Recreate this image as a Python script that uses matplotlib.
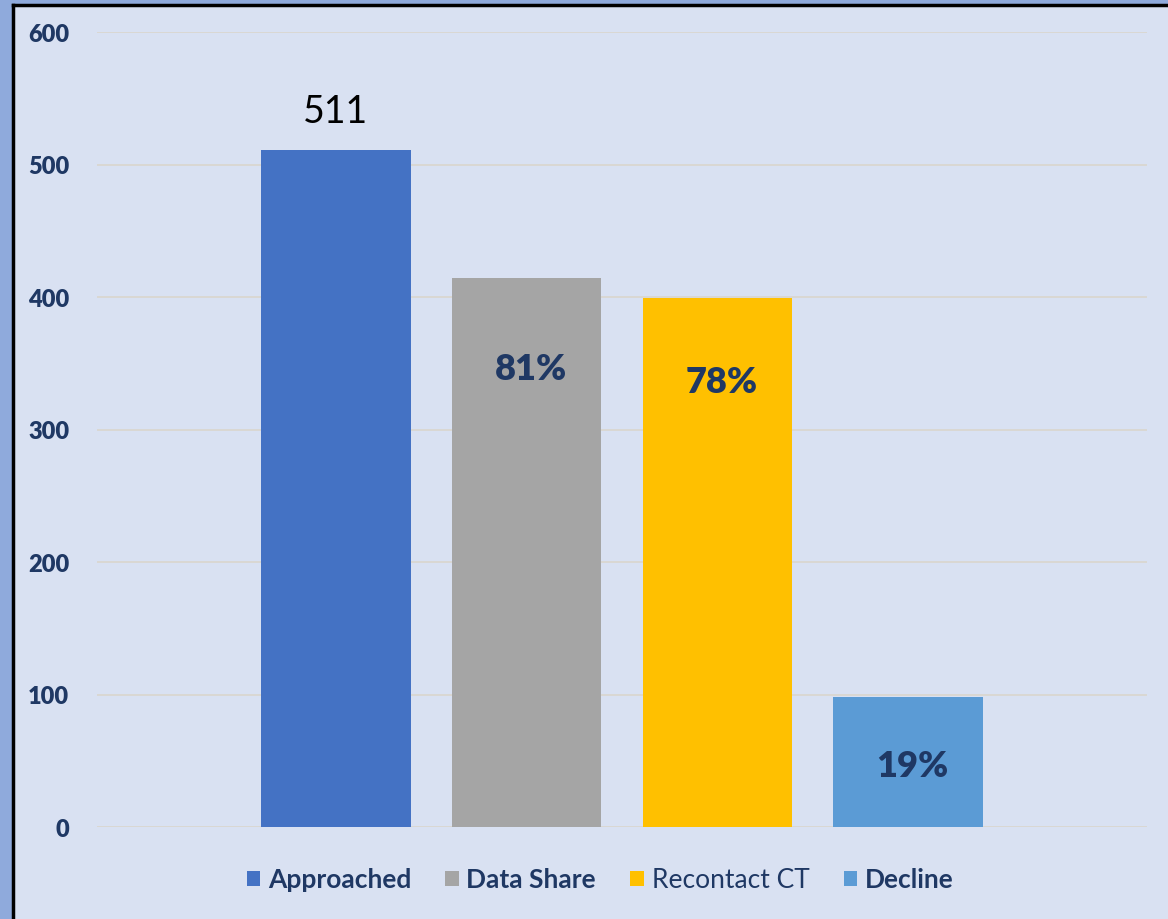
import matplotlib.pyplot as plt
from matplotlib.patches import Patch, Rectangle

# data
series = ['Approached', 'Data Share', 'Recontact CT', 'Decline']
counts = [511, 414, 399, 98]
pct_labels = ['', '81%', '78%', '19%']
yticks = [0, 100, 200, 300, 400, 500, 600]

colors = ['#4472C4', '#A5A5A5', '#FFC000', '#5B9BD5']
navy = '#1F3864'
bg = '#D9E1F2'
frame_blue = '#8FAADC'

plt.rcParams['font.family'] = ['Lato', 'DejaVu Sans']

fig = plt.figure(figsize=(11.68, 9.2), dpi=100)
fig.patch.set_facecolor(bg)
# blue strips on left and top, then black border lines
fig.add_artist(Rectangle((0, 0), 13 / 1168, 1, transform=fig.transFigure,
                         facecolor=frame_blue, edgecolor='none'))
fig.add_artist(Rectangle((0, 1 - 5 / 920), 1, 5 / 920, transform=fig.transFigure,
                         facecolor=frame_blue, edgecolor='none'))
fig.add_artist(plt.Line2D([13 / 1168, 13 / 1168], [0, 1 - 6 / 920],
                          transform=fig.transFigure, color='black', lw=2.5))
fig.add_artist(plt.Line2D([13 / 1168, 1], [1 - 6 / 920, 1 - 6 / 920],
                          transform=fig.transFigure, color='black', lw=2.5))

ax = fig.add_axes([97 / 1168, 92 / 920, 1050 / 1168, 795 / 920])
ax.set_facecolor('none')

x = list(range(len(series)))
bars = ax.bar(x, counts, width=0.785, color=colors, zorder=2)

ax.set_xlim(-1.25, 4.25)
ax.set_ylim(0, 600)
ax.set_yticks(yticks)
ax.set_xticks([])
ax.yaxis.grid(True, color='#D9D6D0', lw=1.3, zorder=0)
for s in ax.spines.values():
    s.set_visible(False)
ax.tick_params(axis='y', length=0, pad=20, labelsize=17, labelcolor=navy)
for t in ax.get_yticklabels():
    t.set_fontweight('heavy')

# value label on first bar
ax.annotate(str(counts[0]), (x[0], counts[0]), xytext=(0, 15),
            textcoords='offset points', ha='center', va='bottom',
            fontsize=27, color='black')

# percentage labels inside bars
offsets = [0, -65, -60, -49]
for i in range(1, len(series)):
    ax.annotate(pct_labels[i], (x[i], counts[i]), xytext=(3, offsets[i]),
                textcoords='offset points', ha='center', va='center',
                fontsize=26, fontweight='heavy', color=navy)

handles = [Patch(facecolor=c, edgecolor='none') for c in colors]
leg = fig.legend(handles, series, loc='center', bbox_to_anchor=(600 / 1168, 39 / 920),
                 ncol=4, frameon=False, fontsize=19, handlelength=0.5,
                 handleheight=0.5, handletextpad=0.3, columnspacing=1.3)
for i, t in enumerate(leg.get_texts()):
    t.set_color(navy)
    t.set_fontweight('normal' if series[i] == 'Recontact CT' else 'bold')

fig.savefig('out.png', dpi=100, facecolor=fig.get_facecolor())
